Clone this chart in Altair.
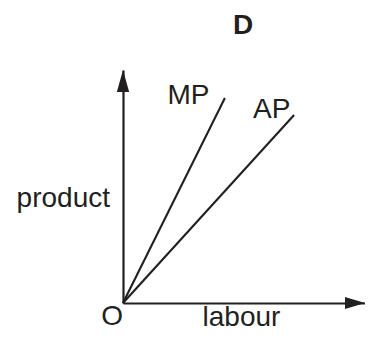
import altair as alt
import pandas as pd

# Curves (start at origin O, end at upper point)
curve_names = ["MP", "MP", "AP", "AP"]
curve_x = [0.0, 4.21, 0.0, 7.07]
curve_y = [0.0, 8.80, 0.0, 8.07]

# Curve labels
label_text = ["MP", "AP"]
label_x = [3.57, 6.92]
label_y = [8.56, 7.92]

# Panel letter
panel_text = ["D"]
panel_x = [4.96]
panel_y = [11.53]

# axis ends (arrow tips)
arrow_x = [0.0, 10.0]
arrow_y = [10.0, 0.0]
arrow_dir = ["up", "right"]

lines = pd.DataFrame({"curve": curve_names, "x": curve_x, "y": curve_y})
labels = pd.DataFrame({"t": label_text, "x": label_x, "y": label_y})
panel = pd.DataFrame({"t": panel_text, "x": panel_x, "y": panel_y})
arrows = pd.DataFrame({"x": arrow_x, "y": arrow_y, "dir": arrow_dir})
origin = pd.DataFrame({"x": [0.0], "y": [0.0], "t": ["O"]})

FONT = "Liberation Sans"
FS = 28
INK = "#231f20"

xs = alt.Scale(domain=[0, 10], nice=False, zero=False)
ys = alt.Scale(domain=[0, 10], nice=False, zero=False)

xaxis = alt.Axis(title="labour", labels=False, ticks=False, grid=False,
                 domainColor=INK, domainWidth=2.2,
                 titleFont=FONT, titleFontSize=FS, titleFontWeight="normal",
                 titleColor=INK, titleX=118, titleY=22,
                 titleAlign="center", titleBaseline="alphabetic")
yaxis = alt.Axis(title="product", labels=False, ticks=False, grid=False,
                 domainColor=INK, domainWidth=2.2,
                 titleFont=FONT, titleFontSize=FS, titleFontWeight="normal",
                 titleColor=INK, titleAngle=0, titleX=-13.5, titleY=136,
                 titleAlign="right", titleBaseline="alphabetic")

base_axes = alt.Chart(origin).mark_point(opacity=0).encode(
    x=alt.X("x:Q", scale=xs, axis=xaxis),
    y=alt.Y("y:Q", scale=ys, axis=yaxis),
)

line_layer = alt.Chart(lines).mark_line(color=INK, strokeWidth=2.1, clip=False).encode(
    x=alt.X("x:Q", scale=xs),
    y=alt.Y("y:Q", scale=ys),
    detail="curve:N",
)

label_layer = alt.Chart(labels).mark_text(
    font=FONT, fontSize=FS, color=INK, align="right", baseline="alphabetic",
).encode(x=alt.X("x:Q", scale=xs), y=alt.Y("y:Q", scale=ys), text="t:N")

panel_layer = alt.Chart(panel).mark_text(
    font=FONT, fontSize=FS, fontWeight="bold", color=INK, align="center",
    baseline="alphabetic", clip=False,
).encode(x=alt.X("x:Q", scale=xs), y=alt.Y("y:Q", scale=ys), text="t:N")

origin_layer = alt.Chart(origin).mark_text(
    font=FONT, fontSize=FS, color=INK, align="right", baseline="alphabetic",
    dx=0, dy=22,
).encode(x=alt.X("x:Q", scale=xs), y=alt.Y("y:Q", scale=ys), text="t:N")

up_path = "M0,0L0.28,1L-0.28,1Z"
right_path = "M0,0L-1,-0.3L-1,0.3Z"

arrow_up = alt.Chart(arrows).transform_filter(alt.datum.dir == "up").mark_point(
    shape=up_path, size=1936, filled=True, fill=INK, strokeWidth=0, opacity=1, clip=False,
).encode(x=alt.X("x:Q", scale=xs), y=alt.Y("y:Q", scale=ys))

arrow_right = alt.Chart(arrows).transform_filter(alt.datum.dir == "right").mark_point(
    shape=right_path, size=1600, filled=True, fill=INK, strokeWidth=0, opacity=1, clip=False,
).encode(x=alt.X("x:Q", scale=xs), y=alt.Y("y:Q", scale=ys))

chart = alt.layer(
    base_axes, line_layer, label_layer, panel_layer, origin_layer, arrow_up, arrow_right
).properties(
    width=242, height=233,
    autosize=alt.AutoSizeParams(type="none"),
    padding={"left": 115, "top": 62, "right": 0, "bottom": 29},
).configure_view(stroke=None)

chart.save("out.html", embed_options={"renderer": "svg", "actions": False})
